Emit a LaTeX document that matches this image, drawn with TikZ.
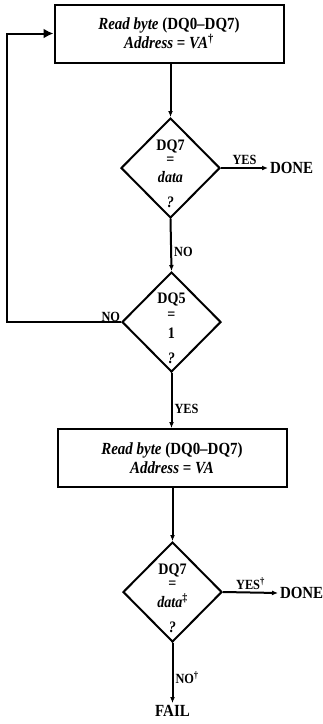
\documentclass[tikz,border=0pt]{standalone}
\usepackage{fontspec}
\setmainfont{Liberation Serif}[FakeStretch=0.88]
\usetikzlibrary{shapes.geometric,arrows.meta}
\tikzset{
  procbox/.style={draw, minimum width=229pt, minimum height=58pt, align=center, inner sep=0pt,
    font=\fontsize{17}{19}\selectfont\bfseries},
  decision/.style={draw, diamond, minimum width=99pt, minimum height=100pt, inner sep=0pt},
  dtext/.style={inner sep=0pt, font=\fontsize{16}{16}\selectfont\bfseries},
  lbl/.style={inner sep=2pt, font=\fontsize{14}{14}\selectfont\bfseries},
  term/.style={inner sep=1pt, font=\fontsize{17}{17}\selectfont\bfseries},
  arr/.style={-{Latex[length=6pt,width=5pt]}},
  bigarr/.style={-{Latex[length=10pt,width=10pt]}}
}
\begin{document}
\begin{tikzpicture}[x=1pt,y=-1pt,line width=2pt]
\useasboundingbox (0,0) rectangle (322,724);
% boxes
\node[procbox] (b1) at (169,33.5) {\textit{Read byte} (DQ0–DQ7)\\\textit{Address} = \textit{VA}\textsuperscript{†}};
\node[procbox] (b2) at (172,458) {\textit{Read byte} (DQ0–DQ7)\\\textit{Address} = \textit{VA}};
% decisions
\node[decision] (d1) at (170.5,168) {};
\node[dtext] (d1a) at (170.5,146) {DQ7};
\node[dtext] (d1b) at (170.5,161) {=};
\node[dtext] (d1c) at (170.5,177) {\textit{data}};
\node[dtext] (d1d) at (170.5,202) {\textit{?}};
\node[decision] (d2) at (171.5,322) {};
\node[dtext] (d2a) at (171.5,299) {DQ5};
\node[dtext] (d2b) at (171.5,316) {=};
\node[dtext] (d2c) at (171.5,333) {1};
\node[dtext] (d2d) at (171.5,358) {\textit{?}};
\node[decision] (d3) at (172.5,592) {};
\node[dtext] (d3a) at (172.5,570) {DQ7};
\node[dtext] (d3b) at (172.5,585) {=};
\node[dtext] (d3c) at (172.5,601) {\textit{data}\textsuperscript{‡}};
\node[dtext] (d3d) at (172.5,627) {\textit{?}};
% terminals
\node[term, anchor=west] (done1) at (268,168) {DONE};
\node[term, anchor=west] (done2) at (278,593) {DONE};
\node[term, anchor=north] (fail) at (172.5,703) {FAIL};
\coordinate (lp) at (7,322);
% connectors
\draw[arr] (b1.south -| d1.north) -- (d1.north);
\draw[arr] (d1.east) -- node[lbl, above] (yes1) {YES} (done1.west);
\draw[arr] (d1.south) -- node[lbl, right, pos=0.64] (no1) {NO} (d2.north);
\draw[bigarr] (d2.west) -- node[lbl, pos=0, anchor=south east, inner sep=0pt, yshift=-1pt] (no2) {NO} (lp) |- (b1.west);
\draw[arr] (d2.south) -- node[lbl, right, pos=0.66] (yes2) {YES} (b2.north -| d2.south);
\draw[arr] (b2.south -| d3.north) -- (d3.north);
\draw[arr] (d3.east) -- node[lbl, above] (yes3) {YES\textsuperscript{†}} (done2.west);
\draw[arr] (d3.south) -- node[lbl, right, pos=0.58] (no3) {NO\textsuperscript{†}} (fail.north);
\end{tikzpicture}
\end{document}
